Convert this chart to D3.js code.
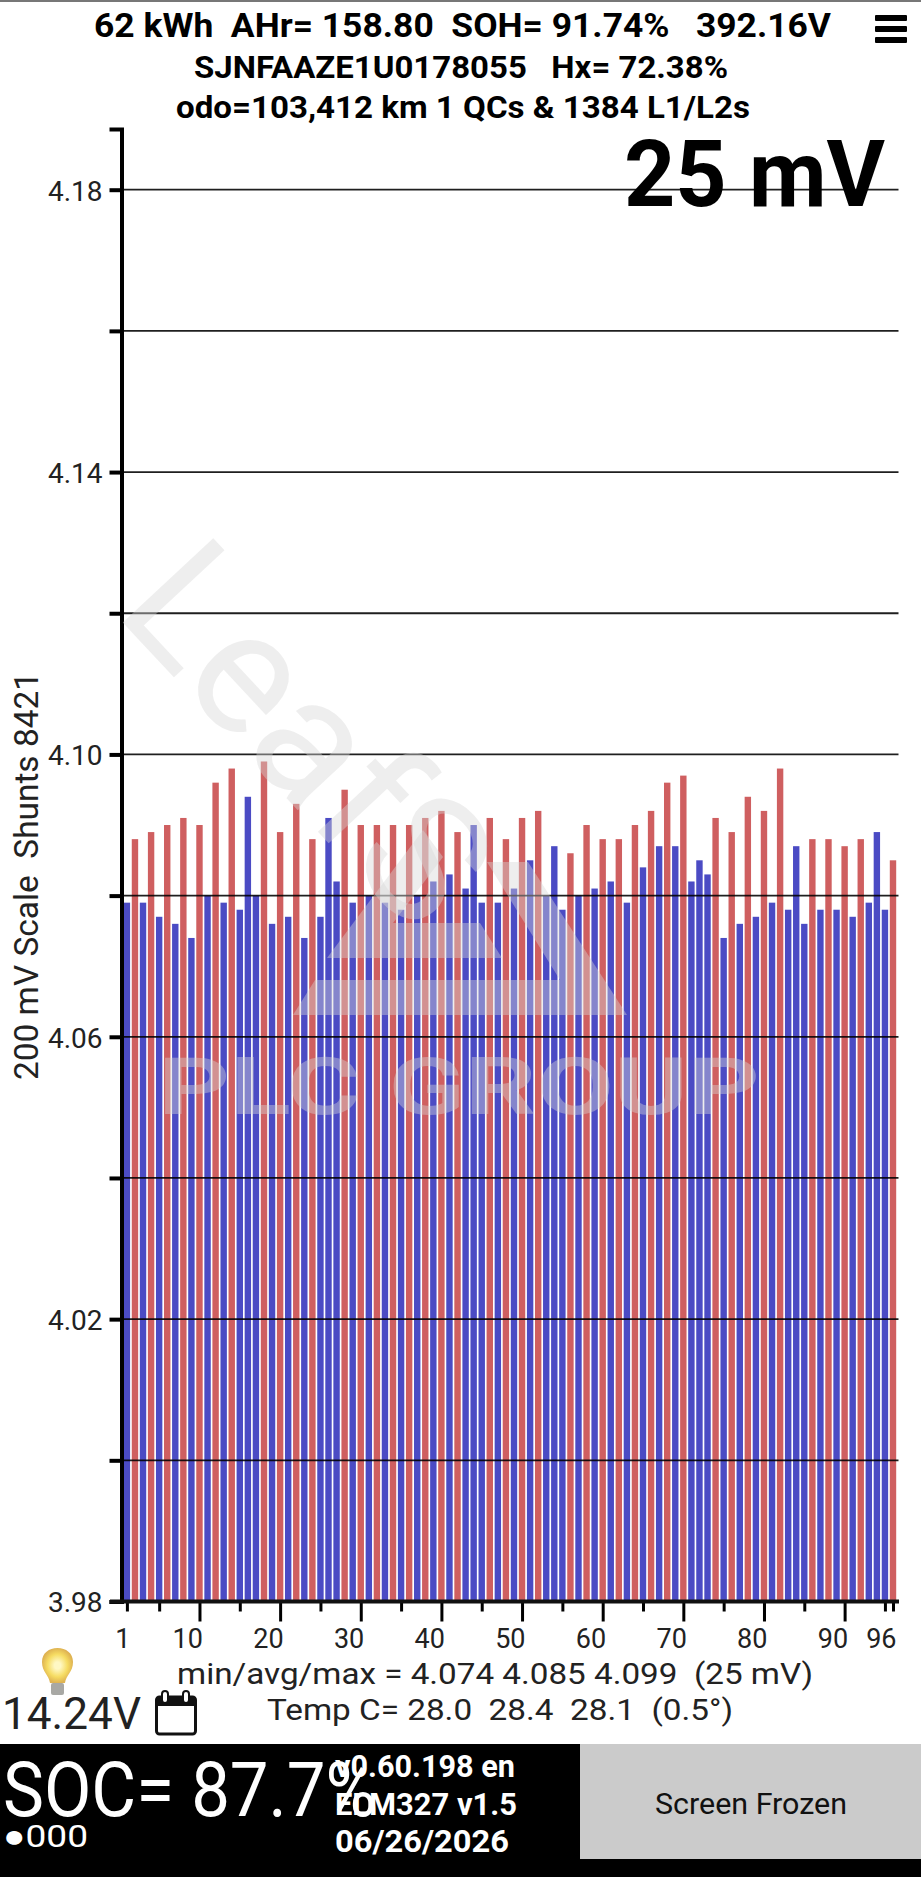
<!DOCTYPE html>
<html>
<head>
<meta charset="utf-8">
<script src="https://cdn.jsdelivr.net/npm/d3@7"></script>
<style>
html, body { margin: 0; padding: 0; background: #fff; }
svg { display: block; }
text { font-family: Roboto, sans-serif; white-space: pre; }
</style>
</head>
<body>
<svg id="chart"></svg>
<script>
const w = 921;
const h = 1877;

// cell voltages, pack cells 1..96
const cellVolts = [
  4.079, 4.088, 4.079, 4.089, 4.077, 4.090, 4.076, 4.091, 4.074, 4.090, 4.080, 4.096,
  4.079, 4.098, 4.078, 4.094, 4.080, 4.099, 4.076, 4.089, 4.077, 4.093, 4.074, 4.088,
  4.077, 4.091, 4.082, 4.095, 4.079, 4.090, 4.080, 4.090, 4.079, 4.090, 4.078, 4.090,
  4.080, 4.091, 4.082, 4.092, 4.083, 4.089, 4.081, 4.090, 4.079, 4.091, 4.079, 4.088,
  4.081, 4.091, 4.085, 4.092, 4.080, 4.087, 4.078, 4.086, 4.080, 4.090, 4.081, 4.088,
  4.082, 4.088, 4.079, 4.090, 4.084, 4.092, 4.087, 4.096, 4.087, 4.097, 4.082, 4.085,
  4.083, 4.091, 4.074, 4.089, 4.076, 4.094, 4.077, 4.092, 4.079, 4.098, 4.078, 4.087,
  4.076, 4.088, 4.078, 4.088, 4.078, 4.087, 4.077, 4.088, 4.079, 4.089, 4.078, 4.085
];
// even numbered cells that are drawn blue, all other even cells are red
const evenBlueCells = [16, 26, 44, 54, 72, 84, 94];

const yTicks = [3.98, 4.00, 4.02, 4.04, 4.06, 4.08, 4.10, 4.12, 4.14, 4.16, 4.18];
const yLabels = [3.98, 4.02, 4.06, 4.10, 4.14, 4.18];
const xTicks = [1, 5, 10, 15, 20, 25, 30, 35, 40, 45, 50, 55, 60, 65, 70, 75, 80, 85, 90, 95, 96];
const xLabels = [1, 10, 20, 30, 40, 50, 60, 70, 80, 90, 96];

const headerLines = [
  "62 kWh  AHr= 158.80  SOH= 91.74%   392.16V",
  "SJNFAAZE1U0178055   Hx= 72.38%",
  "odo=103,412 km 1 QCs & 1384 L1/L2s"
];
const statusLines = ["v0.60.198 en", "ELM327 v1.5", "06/26/2026"];

const blue = "#4b4bc4";
const red = "#cf5f60";

const svg = d3.select("#chart").attr("width", w).attr("height", h);
const defs = svg.append("defs");

const y = d3.scaleLinear().domain([3.98, 4.1886]).range([1601.5, 129]);
const x = d3.scaleLinear().domain([1, 96]).range([126.9, 893]);

// header
const addText = (str, tx, ty, size, weight, fill, len) => {
  let t = svg.append("text").attr("x", tx).attr("y", ty).attr("font-size", size)
    .attr("font-weight", weight).attr("fill", fill).text(str);
  if (len) { t.attr("textLength", len).attr("lengthAdjust", "spacingAndGlyphs"); }
  return t;
}

svg.append("rect").attr("width", w).attr("height", 2).attr("fill", "#777");
addText(headerLines[0], 94, 37, 33, 700, "#000", 737);
addText(headerLines[1], 194, 78, 31, 700, "#000", 534);
addText(headerLines[2], 176, 118, 31, 700, "#000", 574);

[15, 26, 37].forEach((d) => {
  svg.append("rect").attr("x", 875).attr("y", d).attr("width", 32).attr("height", 6).attr("rx", 1).attr("fill", "#000");
});

// bars, slightly soft like the photographed screen
defs.append("filter").attr("id", "soft").append("feGaussianBlur").attr("stdDeviation", 0.3);
svg.append("g").attr("filter", "url(#soft)")
  .selectAll(".bar").data(cellVolts).enter().append("rect").attr("class", "bar")
  .attr("x", (d, i) => x(i + 1) - 3.2)
  .attr("width", 6.4)
  .attr("y", (d) => y(d))
  .attr("height", (d) => y(3.98) - y(d))
  .attr("fill", (d, i) => ((i + 1) % 2 === 1 || evenBlueCells.includes(i + 1)) ? blue : red);

// gridlines sit on top of the bars
svg.selectAll(".grid").data(yTicks.slice(1)).enter().append("line").attr("class", "grid")
  .attr("x1", 122).attr("x2", 898.5)
  .attr("y1", (d) => y(d)).attr("y2", (d) => y(d))
  .attr("stroke", "#000").attr("stroke-opacity", 0.88).attr("stroke-width", 1.8);

addText("25 mV", 624, 206, 93, 700, "#000", 261);

// axes
const yAxis = d3.axisLeft(y).tickValues(yTicks).tickSize(12).tickPadding(7)
  .tickFormat((d) => yLabels.includes(d) ? d3.format(".2f")(d) : "");
const yG = svg.append("g").attr("transform", "translate(121.5,0)").call(yAxis);
yG.select(".domain").attr("stroke", "#000").attr("stroke-width", 4);
yG.selectAll(".tick line").attr("stroke", "#000").attr("stroke-width", 4);
yG.selectAll(".tick text").attr("font-size", 28).attr("font-family", "Roboto").attr("fill", "#222").attr("dy", "0.37em");

const xAxis = d3.axisBottom(x).tickValues(xTicks).tickSize(10).tickPadding(0)
  .tickFormat((d) => xLabels.includes(d) ? d : "");
const xG = svg.append("g").attr("transform", "translate(0,1601.5)").call(xAxis);
xG.select(".domain").remove();
svg.append("line").attr("x1", 110).attr("x2", 899).attr("y1", y(3.98)).attr("y2", y(3.98))
  .attr("stroke", "#111").attr("stroke-width", 4);
xG.selectAll(".tick line").attr("stroke", "#000").attr("stroke-width", 3)
  .attr("y2", (d) => d % 10 === 0 ? 20 : 10);
xG.selectAll(".tick text").attr("font-size", 27).attr("font-family", "Roboto").attr("fill", "#222")
  .attr("text-anchor", "end").attr("x", 3).attr("y", 46.5).attr("dy", 0);

svg.append("text").attr("transform", "translate(38,1080) rotate(-90)")
  .attr("font-size", 33).attr("fill", "#222").attr("textLength", 408).attr("lengthAdjust", "spacingAndGlyphs")
  .text("200 mV Scale  Shunts 8421");

// under the chart
addText("min/avg/max = 4.074 4.085 4.099  (25 mV)", 177, 1684, 30, 400, "#222", 636);
addText("Temp C= 28.0  28.4  28.1  (0.5°)", 267, 1720, 29, 400, "#222", 466);
addText("14.24V", 2, 1729, 44, 400, "#222", 139);

// bulb
const bulb = svg.append("g");
const glow = defs.append("radialGradient").attr("id", "glass");
glow.append("stop").attr("offset", "20%").attr("stop-color", "#fff8c4");
glow.append("stop").attr("offset", "65%").attr("stop-color", "#f6dc62");
glow.append("stop").attr("offset", "100%").attr("stop-color", "#dfb352");
bulb.append("path").attr("d", "M50,1683 C49,1675 42,1672 42,1662 C42,1653 49,1648 57.5,1648 C66,1648 73,1653 73,1662 C73,1672 66,1675 65,1683 Z")
  .attr("fill", "url(#glass)");
bulb.append("rect").attr("x", 51).attr("y", 1683).attr("width", 13).attr("height", 12).attr("rx", 2).attr("fill", "#a8a8a4");

// calendar
const cal = svg.append("g");
cal.append("rect").attr("x", 156.5).attr("y", 1697).attr("width", 39).attr("height", 37).attr("rx", 3)
  .attr("fill", "#fff").attr("stroke", "#111").attr("stroke-width", 3);
cal.append("rect").attr("x", 156.5).attr("y", 1697).attr("width", 39).attr("height", 9).attr("fill", "#111");
[165, 186].forEach((d) => {
  cal.append("rect").attr("x", d - 3).attr("y", 1691).attr("width", 6).attr("height", 12).attr("rx", 3)
    .attr("fill", "#fff").attr("stroke", "#111").attr("stroke-width", 2);
});

// bottom bar
svg.append("rect").attr("y", 1744).attr("width", w).attr("height", h - 1744).attr("fill", "#000");
svg.append("rect").attr("x", 580).attr("y", 1744).attr("width", 341).attr("height", 115).attr("fill", "#cbcbcb");
addText("Screen Frozen", 655, 1814, 30, 400, "#111", 192);
addText("SOC= 87.7%", 3, 1816, 76, 400, "#fff", 373);
addText("\u25CF000", 3, 1847, 32, 400, "#fff", 85);
addText(statusLines[0], 335, 1777, 31, 700, "#fff", 180);
addText(statusLines[1], 335, 1815, 31, 700, "#fff", 182);
addText(statusLines[2], 335, 1852, 31, 700, "#fff", 174);

// watermark goes over everything in the plot
const mark = svg.append("g").attr("fill", "#d6d6d6").attr("fill-opacity", 0.42);
mark.append("text").attr("transform", "translate(113,612) rotate(47)").attr("font-size", 174).text("LeafS");
mark.append("path").attr("d", "M327,958 L423,830 L443,857 L393,923 L480,923 L502,958 Z");
mark.append("path").attr("d", "M293,1015 L315,980 L560,980 L487,862 L528,862 L627,1015 Z");
mark.append("text").attr("x", 158).attr("y", 1114).attr("font-size", 80).attr("font-weight", 700)
  .attr("textLength", 602).attr("lengthAdjust", "spacingAndGlyphs").text("PLC GROUP");
</script>
</body>
</html>
